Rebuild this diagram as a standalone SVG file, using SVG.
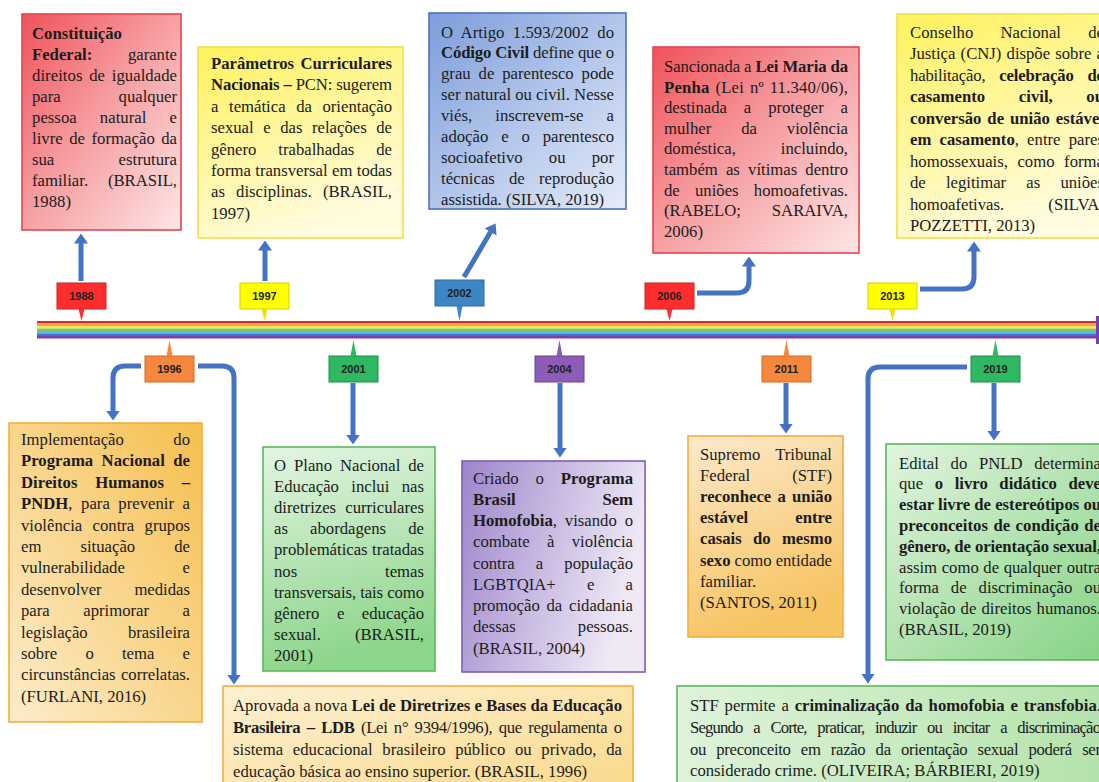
<svg xmlns="http://www.w3.org/2000/svg" width="1099" height="782" viewBox="0 0 1099 782">
<defs>
<style>
.t{font-family:"Liberation Serif","Times New Roman",serif;font-size:16.7px;fill:#1c1c1c}
.b{font-weight:bold}
.e{text-anchor:end}
.yl{font-family:"Liberation Sans",Arial,sans-serif;font-size:11px;font-weight:bold;fill:#222;text-anchor:middle}
.c{fill:none;stroke:#4472c4;stroke-width:5;marker-end:url(#ah)}
.box{stroke-width:1.6}
</style>
<marker id="ah" markerUnits="userSpaceOnUse" markerWidth="10" markerHeight="14" viewBox="0 0 10 14" refX="0.5" refY="7" orient="auto" preserveAspectRatio="none"><path d="M0,0 L10,7 L0,14 z" fill="#4472c4"/></marker>
<linearGradient id="gRed" x1="0" y1="0" x2="1" y2="1"><stop offset="0" stop-color="#f0525a"/><stop offset="0.45" stop-color="#f69a9e"/><stop offset="1" stop-color="#fde6e6"/></linearGradient>
<linearGradient id="gYel" x1="0" y1="0" x2="0.4" y2="1"><stop offset="0" stop-color="#fff25c"/><stop offset="1" stop-color="#fffbdc"/></linearGradient>
<linearGradient id="gBlu" x1="0" y1="0" x2="1" y2="1"><stop offset="0" stop-color="#7d9ddb"/><stop offset="1" stop-color="#e6ecf9"/></linearGradient>
<linearGradient id="gOrH" x1="0" y1="1" x2="1" y2="0"><stop offset="0" stop-color="#fdeccb"/><stop offset="1" stop-color="#f6bf4e"/></linearGradient>
<linearGradient id="gOrV" x1="0" y1="0" x2="0.3" y2="1"><stop offset="0" stop-color="#fde9cc"/><stop offset="1" stop-color="#f7c462"/></linearGradient>
<linearGradient id="gOrL" x1="0" y1="0" x2="1" y2="1"><stop offset="0" stop-color="#fdf1d2"/><stop offset="1" stop-color="#fbd88a"/></linearGradient>
<linearGradient id="gGrV" x1="0" y1="0" x2="0.2" y2="1"><stop offset="0" stop-color="#e4f5e3"/><stop offset="1" stop-color="#8dd58b"/></linearGradient>
<linearGradient id="gGrH" x1="0" y1="0" x2="1" y2="1"><stop offset="0" stop-color="#e2f4df"/><stop offset="1" stop-color="#84d283"/></linearGradient>
<linearGradient id="gGrL" x1="0" y1="0" x2="1" y2="0"><stop offset="0" stop-color="#dff3da"/><stop offset="1" stop-color="#b3e2aa"/></linearGradient>
<linearGradient id="gPur" x1="0" y1="0" x2="1" y2="0.3"><stop offset="0" stop-color="#9d85cb"/><stop offset="1" stop-color="#efe9f6"/></linearGradient>
</defs>
<rect width="1099" height="782" fill="#ffffff"/>

<g id="timeline">
<rect x="37" y="321" width="1062" height="2.5" fill="#d42a2a"/>
<rect x="37" y="323.5" width="1062" height="2.5" fill="#f6a348"/>
<rect x="37" y="326" width="1062" height="2.5" fill="#f3e35a"/>
<rect x="37" y="328.5" width="1062" height="2.5" fill="#86c65a"/>
<rect x="37" y="331" width="1062" height="2.5" fill="#5ab8e8"/>
<rect x="37" y="333.5" width="1062" height="2.5" fill="#3f6ed0"/>
<rect x="37" y="336" width="1062" height="2.5" fill="#7a3fa8"/>
<rect x="1096" y="316" width="3" height="28" fill="#7a3fa8"/>
</g>

<g id="connectors">
<path class="c" d="M81 281 V243"/>
<path class="c" d="M265 281 V250"/>
<path class="c" d="M464 277 L490.8 231.6"/>
<path class="c" d="M697 293 H737 Q749 293 749 281 V266"/>
<path class="c" d="M920 289 H962 Q974 289 974 277 V251"/>
<path class="c" d="M141 366 H125 Q113 366 113 378 V411"/>
<path class="c" d="M198 366 H222 Q234 366 234 378 V675"/>
<path class="c" d="M353 383 V435"/>
<path class="c" d="M560 383 V448"/>
<path class="c" d="M786 383 V424"/>
<path class="c" d="M994 383 V431"/>
<path class="c" d="M967 367 H880 Q868 367 868 379 V674"/>
</g>

<g id="year-1988"><rect x="57" y="283" width="49" height="26" fill="#ff2d2d" stroke="#c82020"/><polygon points="78.5,309 84.5,309 81.5,321" fill="#ff2d2d"/><text class="yl" x="81.5" y="300">1988</text></g>
<g id="year-1997"><rect x="240" y="283" width="49" height="26" fill="#ffff00" stroke="#d8d000"/><polygon points="261.5,309 267.5,309 264.5,321" fill="#f0e000"/><text class="yl" x="264.5" y="300">1997</text></g>
<g id="year-2002"><rect x="435" y="280" width="49" height="26" fill="#3d86c6" stroke="#2f6aa0"/><polygon points="456.5,306 462.5,306 459.5,321" fill="#3d86c6"/><text class="yl" x="459.5" y="297">2002</text></g>
<g id="year-2006"><rect x="645" y="283" width="49" height="26" fill="#ff2d2d" stroke="#c82020"/><polygon points="666.5,309 672.5,309 669.5,321" fill="#ff2d2d"/><text class="yl" x="669.5" y="300">2006</text></g>
<g id="year-2013"><rect x="868" y="283" width="49" height="26" fill="#ffff00" stroke="#d8d000"/><polygon points="889.5,309 895.5,309 892.5,321" fill="#f0e000"/><text class="yl" x="892.5" y="300">2013</text></g>
<g id="year-1996"><rect x="145" y="356" width="49" height="26" fill="#f5883c" stroke="#d06a20"/><polygon points="166.5,356 172.5,356 169.5,340" fill="#f5883c"/><text class="yl" x="169.5" y="373">1996</text></g>
<g id="year-2001"><rect x="329" y="356" width="49" height="26" fill="#2eb862" stroke="#1f9048"/><polygon points="350.5,356 356.5,356 353.5,340" fill="#2eb862"/><text class="yl" x="353.5" y="373">2001</text></g>
<g id="year-2004"><rect x="535" y="356" width="49" height="26" fill="#8e5cb8" stroke="#6a4090"/><polygon points="556.5,356 562.5,356 559.5,340" fill="#8e5cb8"/><text class="yl" x="559.5" y="373">2004</text></g>
<g id="year-2011"><rect x="762" y="356" width="49" height="26" fill="#f5883c" stroke="#d06a20"/><polygon points="783.5,356 789.5,356 786.5,340" fill="#f5883c"/><text class="yl" x="786.5" y="373">2011</text></g>
<g id="year-2019"><rect x="971" y="356" width="49" height="26" fill="#2eb862" stroke="#1f9048"/><polygon points="992.5,356 998.5,356 995.5,340" fill="#2eb862"/><text class="yl" x="995.5" y="373">2019</text></g>

<g id="event-1988">
<rect class="box" x="22" y="14" width="159" height="216" fill="url(#gRed)" stroke="#e2474f"/>
<text class="t b" x="32" y="38.5">Constituição</text>
<text class="t b" x="32" y="59.5">Federal:</text><text class="t e" x="177" y="59.5">garante</text>
<text class="t" x="32" y="80.5" word-spacing="2.5" textLength="145" lengthAdjust="spacing">direitos de igualdade</text>
<text class="t" x="32" y="101.5">para</text><text class="t e" x="177" y="101.5">qualquer</text>
<text class="t" x="32" y="122.5" word-spacing="18.9" textLength="145" lengthAdjust="spacing">pessoa natural e</text>
<text class="t" x="32" y="143.5" word-spacing="2.2" textLength="145" lengthAdjust="spacing">livre de formação da</text>
<text class="t" x="32" y="164.5">sua</text><text class="t e" x="177" y="164.5">estrutura</text>
<text class="t" x="32" y="185.5">familiar.</text><text class="t e" x="177" y="185.5">(BRASIL,</text>
<text class="t" x="32" y="206.5">1988)</text>
</g>

<g id="event-1997">
<rect class="box" x="198" y="47" width="205" height="191" fill="url(#gYel)" stroke="#efe04a"/>
<text class="t b" x="211" y="69">Parâmetros</text><text class="t b e" x="392" y="69">Curriculares</text>
<text class="t" x="211" y="90.4" textLength="181" lengthAdjust="spacing"><tspan class="b">Nacionais –</tspan> PCN: sugerem</text>
<text class="t" x="211" y="111.8" word-spacing="6.4" textLength="181" lengthAdjust="spacing">a temática da orientação</text>
<text class="t" x="211" y="133.2" word-spacing="5.4" textLength="181" lengthAdjust="spacing">sexual e das relações de</text>
<text class="t" x="211" y="154.6" word-spacing="17.7" textLength="181" lengthAdjust="spacing">gênero trabalhadas de</text>
<text class="t" x="211" y="176" word-spacing="0.2" textLength="181" lengthAdjust="spacing">forma transversal em todas</text>
<text class="t" x="211" y="197.4" word-spacing="7" textLength="181" lengthAdjust="spacing">as disciplinas. (BRASIL,</text>
<text class="t" x="211" y="218.8">1997)</text>
</g>

<g id="event-2002">
<rect class="box" x="429" y="13" width="197" height="196" fill="url(#gBlu)" stroke="#4d72b8"/>
<text class="t" x="441" y="37.5" word-spacing="4.2" textLength="173" lengthAdjust="spacing">O Artigo 1.593/2002 do</text>
<text class="t" x="441" y="58.4" textLength="173" lengthAdjust="spacing"><tspan class="b">Código Civil</tspan> define que o</text>
<text class="t" x="441" y="79.3" word-spacing="3.7" textLength="173" lengthAdjust="spacing">grau de parentesco pode</text>
<text class="t" x="441" y="100.2" textLength="173" lengthAdjust="spacing">ser natural ou civil. Nesse</text>
<text class="t" x="441" y="121.1" word-spacing="19" textLength="173" lengthAdjust="spacing">viés, inscrevem-se a</text>
<text class="t" x="441" y="142" word-spacing="8.7" textLength="173" lengthAdjust="spacing">adoção e o parentesco</text>
<text class="t" x="441" y="162.9" word-spacing="22" textLength="173" lengthAdjust="spacing">socioafetivo ou por</text>
<text class="t" x="441" y="183.8" word-spacing="10" textLength="173" lengthAdjust="spacing">técnicas de reprodução</text>
<text class="t" x="441" y="204.7">assistida. (SILVA, 2019)</text>
</g>

<g id="event-2006">
<rect class="box" x="653" y="47" width="206" height="206" fill="url(#gRed)" stroke="#e2474f"/>
<text class="t" x="664" y="72" textLength="184" lengthAdjust="spacing">Sancionada a <tspan class="b">Lei Maria da</tspan></text>
<text class="t" x="664" y="92.6" word-spacing="1.5" textLength="184" lengthAdjust="spacing"><tspan class="b">Penha</tspan> (Lei nº 11.340/06),</text>
<text class="t" x="664" y="113.2" word-spacing="12.7" textLength="184" lengthAdjust="spacing">destinada a proteger a</text>
<text class="t" x="664" y="133.8" word-spacing="25.7" textLength="184" lengthAdjust="spacing">mulher da violência</text>
<text class="t" x="664" y="154.4">doméstica,</text><text class="t e" x="848" y="154.4">incluindo,</text>
<text class="t" x="664" y="175" word-spacing="4" textLength="184" lengthAdjust="spacing">também as vítimas dentro</text>
<text class="t" x="664" y="195.6" word-spacing="11" textLength="184" lengthAdjust="spacing">de uniões homoafetivas.</text>
<text class="t" x="664" y="216.2">(RABELO;</text><text class="t e" x="848" y="216.2">SARAIVA,</text>
<text class="t" x="664" y="236.8">2006)</text>
</g>

<g id="event-2013">
<rect class="box" x="897" y="14" width="220" height="224" fill="url(#gYel)" stroke="#efe04a"/>
<text class="t" x="910" y="37.5" word-spacing="23" textLength="194" lengthAdjust="spacing">Conselho Nacional de</text>
<text class="t" x="910" y="59" word-spacing="1" textLength="194" lengthAdjust="spacing">Justiça (CNJ) dispõe sobre a</text>
<text class="t" x="910" y="80.5" word-spacing="9.8" textLength="194" lengthAdjust="spacing">habilitação, <tspan class="b">celebração de</tspan></text>
<text class="t b" x="910" y="102" word-spacing="29.5" textLength="194" lengthAdjust="spacing">casamento civil, ou</text>
<text class="t b" x="910" y="123.5" word-spacing="1.7" textLength="194" lengthAdjust="spacing">conversão de união estável</text>
<text class="t" x="910" y="145" word-spacing="4" textLength="194" lengthAdjust="spacing"><tspan class="b">em casamento</tspan>, entre pares</text>
<text class="t" x="910" y="166.5" word-spacing="5.4" textLength="194" lengthAdjust="spacing">homossexuais, como forma</text>
<text class="t" x="910" y="188" word-spacing="16" textLength="194" lengthAdjust="spacing">de legitimar as uniões</text>
<text class="t" x="910" y="209.5">homoafetivas.</text><text class="t e" x="1104" y="209.5">(SILVA;</text>
<text class="t" x="910" y="231">POZZETTI, 2013)</text>
</g>

<g id="event-1996-pndh">
<rect class="box" x="9" y="423" width="193" height="299" fill="url(#gOrH)" stroke="#efb040"/>
<text class="t" x="21" y="445">Implementação</text><text class="t e" x="190" y="445">do</text>
<text class="t b" x="21" y="466.4" word-spacing="4.2" textLength="169" lengthAdjust="spacing">Programa Nacional de</text>
<text class="t b" x="21" y="487.8" word-spacing="13.5" textLength="169" lengthAdjust="spacing">Direitos Humanos –</text>
<text class="t" x="21" y="509.2" word-spacing="4.4" textLength="169" lengthAdjust="spacing"><tspan class="b">PNDH</tspan>, para prevenir a</text>
<text class="t" x="21" y="530.6" word-spacing="6.1" textLength="169" lengthAdjust="spacing">violência contra grupos</text>
<text class="t" x="21" y="552" word-spacing="34.9" textLength="169" lengthAdjust="spacing">em situação de</text>
<text class="t" x="21" y="573.4">vulnerabilidade</text><text class="t e" x="190" y="573.4">e</text>
<text class="t" x="21" y="594.8">desenvolver</text><text class="t e" x="190" y="594.8">medidas</text>
<text class="t" x="21" y="616.2" word-spacing="29.3" textLength="169" lengthAdjust="spacing">para aprimorar a</text>
<text class="t" x="21" y="637.6">legislação</text><text class="t e" x="190" y="637.6">brasileira</text>
<text class="t" x="21" y="659" word-spacing="24" textLength="169" lengthAdjust="spacing">sobre o tema e</text>
<text class="t" x="21" y="680.4" word-spacing="1.1" textLength="169" lengthAdjust="spacing">circunstâncias correlatas.</text>
<text class="t" x="21" y="701.8">(FURLANI, 2016)</text>
</g>

<g id="event-1996-ldb">
<rect class="box" x="223" y="686" width="410" height="110" fill="url(#gOrL)" stroke="#efb040"/>
<text class="t" x="233" y="710.5" textLength="389" lengthAdjust="spacing">Aprovada a nova <tspan class="b">Lei de Diretrizes e Bases da Educação</tspan></text>
<text class="t" x="233" y="732.5" word-spacing="2.5" textLength="389" lengthAdjust="spacing"><tspan class="b">Brasileira – LDB</tspan> (Lei n° 9394/1996), que regulamenta o</text>
<text class="t" x="233" y="754.5" word-spacing="5.5" textLength="389" lengthAdjust="spacing">sistema educacional brasileiro público ou privado, da</text>
<text class="t" x="233" y="776.5">educação básica ao ensino superior. (BRASIL, 1996)</text>
</g>

<g id="event-2001">
<rect class="box" x="263" y="447" width="172" height="224" fill="url(#gGrV)" stroke="#5cb85c"/>
<text class="t" x="274" y="471" word-spacing="3.8" textLength="150" lengthAdjust="spacing">O Plano Nacional de</text>
<text class="t" x="274" y="492.1" word-spacing="8.2" textLength="150" lengthAdjust="spacing">Educação inclui nas</text>
<text class="t" x="274" y="513.2">diretrizes</text><text class="t e" x="424" y="513.2">curriculares</text>
<text class="t" x="274" y="534.3" word-spacing="18" textLength="150" lengthAdjust="spacing">as abordagens de</text>
<text class="t" x="274" y="555.4">problemáticas</text><text class="t e" x="424" y="555.4">tratadas</text>
<text class="t" x="274" y="576.5">nos</text><text class="t e" x="424" y="576.5">temas</text>
<text class="t" x="274" y="597.6" textLength="150" lengthAdjust="spacing">transversais, tais como</text>
<text class="t" x="274" y="618.7" word-spacing="13.3" textLength="150" lengthAdjust="spacing">gênero e educação</text>
<text class="t" x="274" y="639.8">sexual.</text><text class="t e" x="424" y="639.8">(BRASIL,</text>
<text class="t" x="274" y="660.9">2001)</text>
</g>

<g id="event-2004">
<rect class="box" x="462" y="461" width="183" height="211" fill="url(#gPur)" stroke="#7d5fb0"/>
<text class="t" x="473" y="483.5" word-spacing="12.7" textLength="160" lengthAdjust="spacing">Criado o <tspan class="b">Programa</tspan></text>
<text class="t b" x="473" y="504.7">Brasil</text><text class="t b e" x="633" y="504.7">Sem</text>
<text class="t" x="473" y="526" word-spacing="3.7" textLength="160" lengthAdjust="spacing"><tspan class="b">Homofobia</tspan>, visando o</text>
<text class="t" x="473" y="547.2" word-spacing="13.2" textLength="160" lengthAdjust="spacing">combate à violência</text>
<text class="t" x="473" y="568.5" word-spacing="16.9" textLength="160" lengthAdjust="spacing">contra a população</text>
<text class="t" x="473" y="589.7" word-spacing="27" textLength="160" lengthAdjust="spacing">LGBTQIA+ e a</text>
<text class="t" x="473" y="611" word-spacing="2.5" textLength="160" lengthAdjust="spacing">promoção da cidadania</text>
<text class="t" x="473" y="632.2">dessas</text><text class="t e" x="633" y="632.2">pessoas.</text>
<text class="t" x="473" y="653.5">(BRASIL, 2004)</text>
</g>

<g id="event-2011">
<rect class="box" x="688" y="436" width="155" height="201" fill="url(#gOrV)" stroke="#efb040"/>
<text class="t" x="700" y="460">Supremo</text><text class="t e" x="832" y="460">Tribunal</text>
<text class="t" x="700" y="481.1">Federal</text><text class="t e" x="832" y="481.1">(STF)</text>
<text class="t b" x="700" y="502.2" word-spacing="2" textLength="132" lengthAdjust="spacing">reconhece a união</text>
<text class="t b" x="700" y="523.3">estável</text><text class="t b e" x="832" y="523.3">entre</text>
<text class="t b" x="700" y="544.4" word-spacing="7.1" textLength="132" lengthAdjust="spacing">casais do mesmo</text>
<text class="t" x="700" y="565.5" textLength="132" lengthAdjust="spacing"><tspan class="b">sexo</tspan> como entidade</text>
<text class="t" x="700" y="586.6">familiar.</text>
<text class="t" x="700" y="607.7">(SANTOS, 2011)</text>
</g>

<g id="event-2019-pnld">
<rect class="box" x="886" y="444" width="230" height="216" fill="url(#gGrH)" stroke="#5cb85c"/>
<text class="t" x="899" y="468.5" word-spacing="7.5" textLength="202" lengthAdjust="spacing">Edital do PNLD determina</text>
<text class="t" x="899" y="489.3" word-spacing="7.4" textLength="202" lengthAdjust="spacing">que <tspan class="b">o livro didático deve</tspan></text>
<text class="t b" x="899" y="510.1" textLength="202" lengthAdjust="spacing">estar livre de estereótipos ou</text>
<text class="t b" x="899" y="530.9" word-spacing="1.3" textLength="202" lengthAdjust="spacing">preconceitos de condição de</text>
<text class="t b" x="899" y="551.7" textLength="202" lengthAdjust="spacing">gênero, de orientação sexual,</text>
<text class="t" x="899" y="572.5" word-spacing="0.4" textLength="202" lengthAdjust="spacing">assim como de qualquer outra</text>
<text class="t" x="899" y="593.3" word-spacing="7.8" textLength="202" lengthAdjust="spacing">forma de discriminação ou</text>
<text class="t" x="899" y="614.1" word-spacing="0.9" textLength="202" lengthAdjust="spacing">violação de direitos humanos.</text>
<text class="t" x="899" y="634.9">(BRASIL, 2019)</text>
</g>

<g id="event-2019-stf">
<rect class="box" x="677" y="686" width="440" height="110" fill="url(#gGrL)" stroke="#5cb85c"/>
<text class="t" x="690" y="711" word-spacing="1.7" textLength="411" lengthAdjust="spacing">STF permite a <tspan class="b">criminalização da homofobia e transfobia</tspan>.</text>
<text class="t" x="690" y="733" word-spacing="7.3" textLength="411" lengthAdjust="spacing">Segundo a Corte, praticar, induzir ou incitar a discriminação</text>
<text class="t" x="690" y="755" word-spacing="6.4" textLength="411" lengthAdjust="spacing">ou preconceito em razão da orientação sexual poderá ser</text>
<text class="t" x="690" y="776">considerado crime. (OLIVEIRA; BÁRBIERI, 2019)</text>
</g>
</svg>
